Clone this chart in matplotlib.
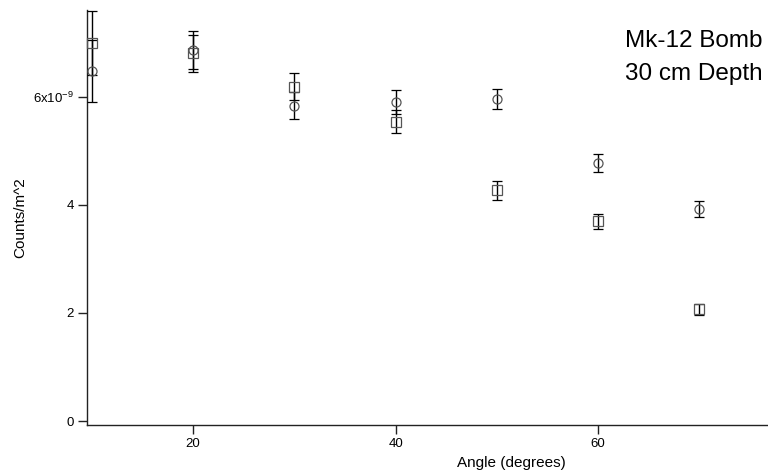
import matplotlib
matplotlib.use("Agg")
import matplotlib.pyplot as plt
from matplotlib.ticker import FixedLocator, FixedFormatter

plt.rcParams['font.family'] = ['Liberation Sans', 'DejaVu Sans']
plt.rcParams['mathtext.fontset'] = 'custom'
plt.rcParams['mathtext.rm'] = 'Liberation Sans'
plt.rcParams['mathtext.it'] = 'Liberation Sans'

# Data (counts/m^2)
angles = [10, 20, 30, 40, 50, 60, 70]
circle_vals = [6.48e-9, 6.87e-9, 5.84e-9, 5.91e-9, 5.96e-9, 4.78e-9, 3.92e-9]
circle_err = [0.57e-9, 0.345e-9, 0.25e-9, 0.22e-9, 0.19e-9, 0.165e-9, 0.15e-9]
square_vals = [7.00e-9, 6.81e-9, 6.19e-9, 5.54e-9, 4.27e-9, 3.70e-9, 2.07e-9]
square_err = [0.60e-9, 0.345e-9, 0.25e-9, 0.21e-9, 0.17e-9, 0.14e-9, 0.10e-9]

y_ticks = [0, 2e-9, 4e-9, 6e-9]
y_tick_labels = ['0', '2', '4', r'6x10$^{-9}$']
x_ticks = [20, 40, 60]
x_tick_labels = ['20', '40', '60']
title_lines = ['Mk-12 Bomb', '30 cm Depth']

fig = plt.figure(figsize=(7.68, 4.74), dpi=100)
ax = fig.add_axes([87/768, 1 - 425/474, 1 - 87/768, (425 - 10)/474])

mcol = '#555555'
ax.errorbar(angles, circle_vals, yerr=circle_err, fmt='o', ms=6.5,
            mfc='none', mec=mcol, mew=0.9, ecolor='black', elinewidth=1,
            capsize=3.3, capthick=1, clip_on=False, zorder=3)
ax.errorbar(angles, square_vals, yerr=square_err, fmt='s', ms=6.5,
            mfc='none', mec=mcol, mew=0.9, ecolor='black', elinewidth=1,
            capsize=3.3, capthick=1, clip_on=False, zorder=3)

ax.set_xlim(9.51, 76.8)
ax.set_ylim(-0.074e-9, 7.61e-9)

ax.yaxis.set_major_locator(FixedLocator(y_ticks))
ax.yaxis.set_major_formatter(FixedFormatter(y_tick_labels))
ax.xaxis.set_major_locator(FixedLocator(x_ticks))
ax.xaxis.set_major_formatter(FixedFormatter(x_tick_labels))

for s in ['top', 'right']:
    ax.spines[s].set_visible(False)
for s in ['left', 'bottom']:
    ax.spines[s].set_color('#222222')
    ax.spines[s].set_linewidth(1.0)

ax.tick_params(axis='both', direction='out', length=6.5, width=1,
               color='#222222', labelsize=9.5, pad=3)

ax.set_xlabel('Angle (degrees)', fontsize=11)
ax.xaxis.set_label_coords(0.623, -0.075)
ax.set_ylabel('Counts/m^2', fontsize=11)
ax.yaxis.set_label_coords(-0.088, 0.5)

for i, line in enumerate(title_lines):
    fig.text(625/768, 1 - (47 + 33 * i)/474, line, fontsize=17.5,
             ha='left', va='baseline')

fig.savefig('out.png', dpi=100)
